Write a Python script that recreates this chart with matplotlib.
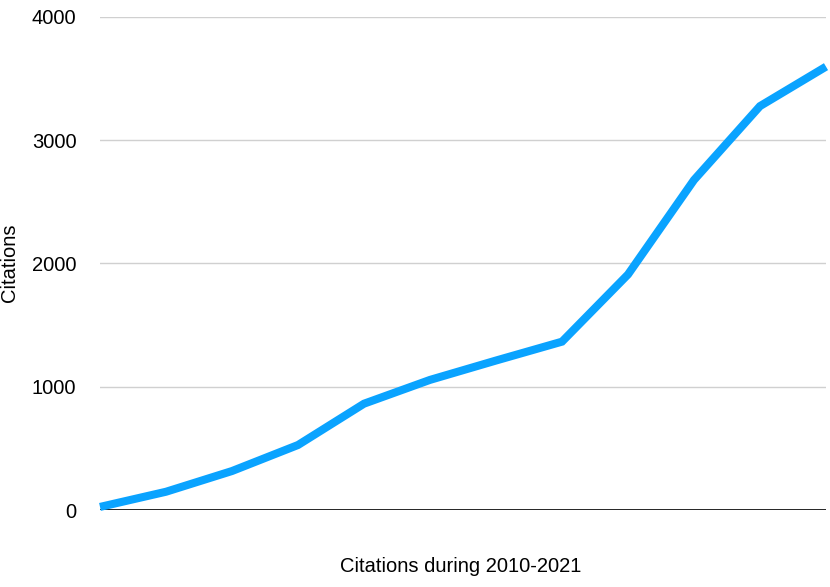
import matplotlib
matplotlib.use("Agg")
import matplotlib.pyplot as plt

years = [2010, 2011, 2012, 2013, 2014, 2015, 2016, 2017, 2018, 2019, 2020, 2021]
citations = [25, 148, 316, 527, 862, 1055, 1212, 1365, 1910, 2676, 3275, 3595]
yticks = [0, 1000, 2000, 3000, 4000]

plt.rcParams['font.family'] = ['Liberation Sans', 'DejaVu Sans']
FS = 14.5

fig = plt.figure(figsize=(8.3, 5.87), dpi=100)
W, H = 830, 587
ax = fig.add_axes([100 / W, 1 - 510 / H, 726 / W, (510 - 16.7) / H])

ax.plot(years, citations, color='#0AA3FF', lw=5.8, solid_capstyle='butt',
        solid_joinstyle='miter', zorder=3, clip_on=False)
ax.set_xlim(years[0], years[-1])
ax.set_ylim(0, 4000)
ax.set_yticks(yticks)
ax.set_yticklabels([str(v) for v in yticks], fontsize=FS)
ax.set_xticks([])
for y in yticks[1:]:
    ax.axhline(y, color='#d0d0d0', lw=1.0, zorder=1)
ax.axhline(0, color='black', lw=1.2, zorder=2)
for s in ax.spines.values():
    s.set_visible(False)
ax.tick_params(axis='y', length=0, pad=17)

fig.text(461 / W, 1 - 567 / H, 'Citations during 2010-2021', fontsize=FS,
         ha='center', va='center')
fig.text(10 / W, 1 - 263 / H, 'Citations', fontsize=FS, rotation=90,
         ha='center', va='center')

fig.savefig('out.png', dpi=100)
